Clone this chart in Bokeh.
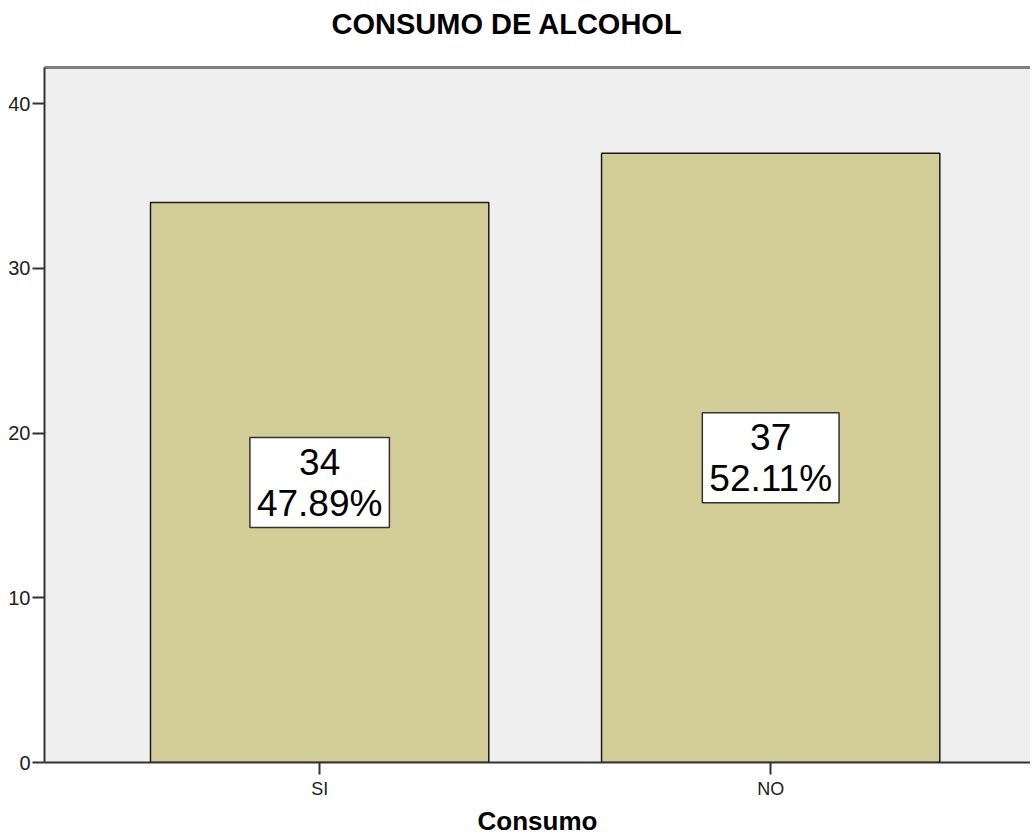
from bokeh.plotting import figure
from bokeh.models import Range1d, FixedTicker, LinearAxis, ColumnDataSource
from bokeh.core.properties import value
from bokeh.embed import file_html
from bokeh.resources import INLINE

# ---- data ----
categories = ["SI", "NO"]
counts = [34, 37]
percents = [47.89, 52.11]
y_ticks = [0, 10, 20, 30, 40]
title_text = "CONSUMO DE ALCOHOL"
x_label = "Consumo"

FONT = "Liberation Sans"

x_pos = list(range(len(categories)))
labels = [f"{c}\n{pc:.2f}%" for c, pc in zip(counts, percents)]
mid = [c / 2 for c in counts]

source = ColumnDataSource(dict(x=x_pos, top=counts, mid=mid, label=labels))

p = figure(width=1030, height=838,
           x_range=Range1d(-0.61, 1.576), y_range=Range1d(0, 42.2),
           output_backend="svg", toolbar_location=None,
           min_border_left=44, min_border_right=0,
           min_border_bottom=0, min_border_top=0)
p.background_fill_color = "#EFEFEF"
p.border_fill_color = "white"
p.outline_line_color = None
p.grid.visible = False

p.vbar(x="x", top="top", bottom=0, width=0.75, source=source,
       fill_color="#D3CE98", line_color="#1a1a1a", line_width=1.5)

p.text(x="x", y="mid", text="label", source=source,
       text_font=value(FONT), text_font_size="37px",
       text_align="center", text_baseline="middle", text_line_height=1.0,
       text_color="black", background_fill_color="white",
       border_line_color="#333333", border_line_width=1.5, padding=(7, 4))

# title
p.title.text = title_text
p.title.text_font = FONT
p.title.text_font_size = "29px"
p.title.text_font_style = "bold"
p.title.align = "left"
p.title.offset = 287
p.title.text_color = "black"

# bottom x axis and left y axis
xa = p.below[0]
ya = p.left[0]

# top border via an empty axis (blank label reserves the gap under the title)
top_axis = LinearAxis(ticker=FixedTicker(ticks=[]),
                      axis_line_color="#7f7f7f", axis_line_width=3,
                      major_tick_line_color=None, minor_tick_line_color=None,
                      major_label_text_font_size="0px", major_label_standoff=0,
                      axis_label=" ", axis_label_text_font_size="16px",
                      axis_label_standoff=3)
p.add_layout(top_axis, "above")

# x axis
xa.ticker = FixedTicker(ticks=x_pos)
xa.major_label_overrides = {i: c for i, c in zip(x_pos, categories)}
xa.minor_tick_line_color = None
xa.axis_line_color = "#333333"
xa.axis_line_width = 2
xa.major_tick_line_color = "#333333"
xa.major_tick_line_width = 2
xa.major_tick_out = 12
xa.major_tick_in = 0
xa.major_label_text_font = FONT
xa.major_label_text_font_size = "18px"
xa.major_label_text_color = "#222222"
xa.major_label_standoff = 4
xa.axis_label = x_label
xa.axis_label_text_font = FONT
xa.axis_label_text_font_size = "26px"
xa.axis_label_text_font_style = "bold"
xa.axis_label_text_color = "black"
xa.axis_label_standoff = 4

# y axis
ya.ticker = FixedTicker(ticks=y_ticks)
ya.minor_tick_line_color = None
ya.axis_line_color = "#333333"
ya.axis_line_width = 2
ya.major_tick_line_color = "#333333"
ya.major_tick_line_width = 2
ya.major_tick_out = 12
ya.major_tick_in = 0
ya.major_label_text_font = FONT
ya.major_label_text_font_size = "20px"
ya.major_label_text_color = "#222222"
ya.major_label_standoff = 2

open("out.html", "w").write(file_html(p, INLINE))
